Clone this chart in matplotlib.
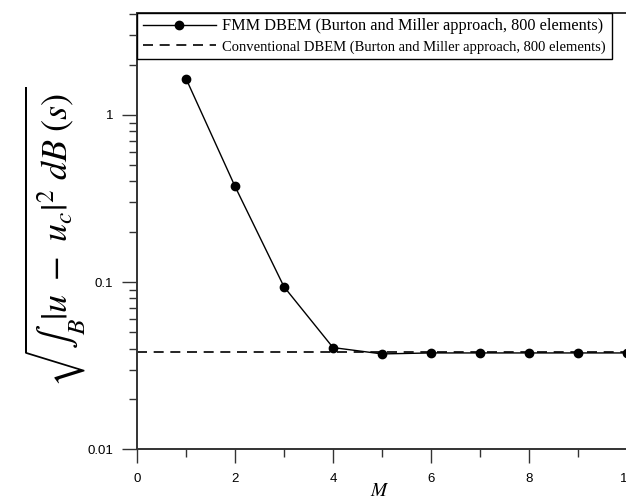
import matplotlib
matplotlib.use("Agg")
import matplotlib.pyplot as plt
from matplotlib.ticker import FixedLocator, LogLocator, NullFormatter

plt.rcParams['mathtext.fontset'] = 'stix'

M_vals = [1, 2, 3, 4, 5, 6, 7, 8, 9, 10]
fmm_err = [1.65, 0.374, 0.0938, 0.0406, 0.0372, 0.0377, 0.0377, 0.0377, 0.0377, 0.0377]
conv_err = 0.0380
label_fmm = "FMM DBEM (Burton and Miller approach, 800 elements)"
label_conv = "Conventional DBEM (Burton and Miller approach, 800 elements)"
xticks = [0, 2, 4, 6, 8, 10]
yticks = [0.01, 0.1, 1]
ytick_labels = ["0.01", "0.1", "1"]

fig = plt.figure(figsize=(6.26, 5.0), dpi=100)
ax = fig.add_axes([137/626, 1 - 449.3/500, (627-137)/626, (449.3-12.5)/500])

ax.plot(M_vals, fmm_err, color='black', lw=1.0, marker='o', ms=6, label=label_fmm)
ax.axhline(conv_err, color='black', lw=1.2, ls=(0, (6, 4)), label=label_conv)

ax.set_yscale('log')
ax.set_xlim(0, 10)
ax.set_ylim(0.01, 4.1)
ax.set_xticks(xticks)
ax.set_xticklabels([str(v) for v in xticks])
ax.xaxis.set_minor_locator(FixedLocator([1, 3, 5, 7, 9]))
ax.set_yticks(yticks)
ax.set_yticklabels(ytick_labels)
ax.yaxis.set_minor_locator(LogLocator(base=10, subs=range(2, 10)))
ax.yaxis.set_minor_formatter(NullFormatter())

ax.tick_params(axis='both', which='major', direction='out', width=1.0,
               labelsize=9.5, colors='#333333', labelcolor='black')
ax.tick_params(axis='both', which='minor', direction='out', width=1.0,
               colors='#333333')
ax.tick_params(axis='x', which='major', length=10, pad=7)
ax.tick_params(axis='x', which='minor', length=6)
ax.tick_params(axis='y', which='major', length=11, pad=6)
ax.tick_params(axis='y', which='minor', length=6)
for lab in ax.get_xticklabels() + ax.get_yticklabels():
    lab.set_family('Liberation Sans')
for sp in ax.spines.values():
    sp.set_color('#333333')
    sp.set_linewidth(1.4)

leg = ax.legend(loc='upper left', bbox_to_anchor=(0, 1), borderaxespad=0,
                fancybox=False, edgecolor='black', framealpha=1,
                prop={'family': 'Liberation Serif', 'size': 11.7},
                handlelength=4.5, handletextpad=0.4, borderpad=0.35,
                labelspacing=0.3)
leg.get_frame().set_linewidth(1.0)
leg.get_texts()[1].set_fontsize(10.5)

fig.text(55/626, 1 - 237/500, r'$\sqrt{\int_B |u\ -\ u_c|^2\ dB\ (s)}$',
         rotation=90, ha='center', va='center', fontsize=26)
fig.text(380/626, 1 - 490/500, r'$M$', ha='center', va='center', fontsize=14)

fig.savefig('out.png', dpi=100)
